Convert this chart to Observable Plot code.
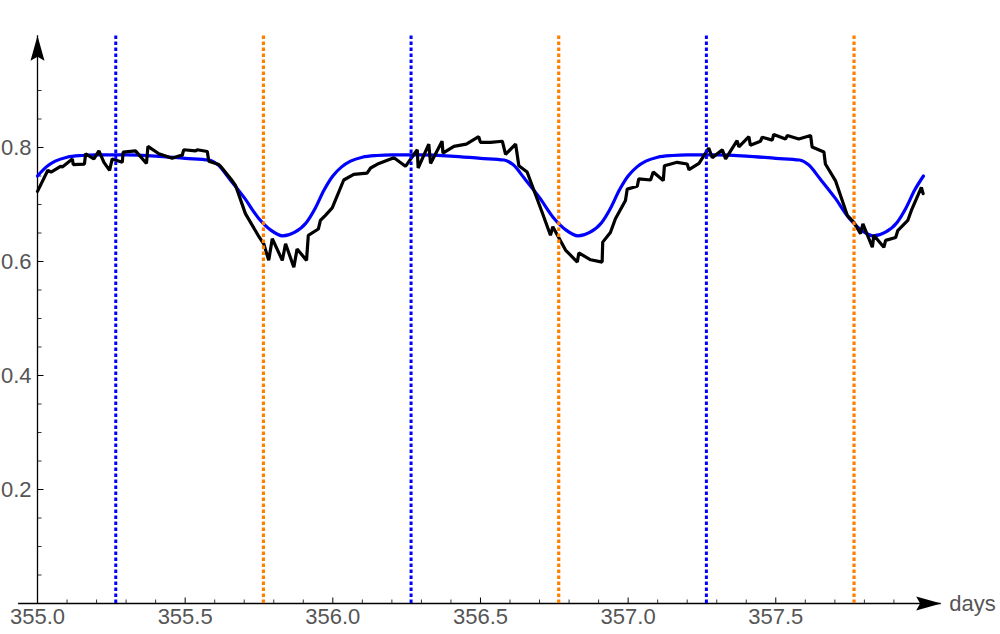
<!DOCTYPE html>
<html><head><meta charset="utf-8">
<script src="https://cdn.jsdelivr.net/npm/d3@7"></script>
<script src="https://cdn.jsdelivr.net/npm/@observablehq/plot@0.6"></script>
<style>html,body{margin:0;padding:0;background:#fff}#chart svg{display:block}</style>
</head><body><div id="chart"></div>
<script>
// Observed series (black)
const blackDays = [355.000,355.035,355.046,355.078,355.084,355.118,355.121,355.159,355.163,355.191,
355.208,355.225,355.244,355.253,355.287,355.290,355.332,355.369,355.374,355.411,
355.456,355.484,355.490,355.495,355.535,355.541,355.575,355.580,355.614,355.620,
355.659,355.671,355.704,355.747,355.766,355.783,355.795,355.829,355.840,355.868,
355.879,355.911,355.917,355.951,355.958,355.975,355.998,356.037,356.071,356.116,
356.128,356.156,356.207,356.246,356.286,356.289,356.325,356.331,356.370,356.373,
356.410,356.452,356.494,356.500,356.534,356.574,356.585,356.619,356.630,356.658,
356.709,356.737,356.745,356.788,356.828,356.833,356.873,356.912,356.914,356.940,
356.957,356.991,356.997,357.031,357.036,357.076,357.085,357.119,357.123,357.166,
357.200,357.206,357.240,357.273,357.285,357.319,357.330,357.369,357.375,357.409,
357.414,357.448,357.454,357.488,357.493,357.533,357.539,357.578,357.618,357.623,
357.663,357.668,357.702,357.742,357.764,357.787,357.795,357.827,357.832,357.866,
357.872,357.906,357.913,357.947,357.961,357.993,357.999];
const blackValues = [0.723,0.760,0.757,0.767,0.766,0.780,0.770,0.771,0.789,0.780,
0.794,0.774,0.760,0.780,0.774,0.792,0.794,0.772,0.802,0.789,
0.781,0.786,0.786,0.796,0.794,0.796,0.793,0.776,0.770,0.767,
0.742,0.733,0.684,0.646,0.631,0.602,0.640,0.602,0.631,0.590,
0.622,0.602,0.646,0.657,0.672,0.681,0.694,0.743,0.753,0.755,
0.764,0.772,0.782,0.767,0.796,0.764,0.806,0.772,0.811,0.790,
0.802,0.806,0.819,0.809,0.809,0.811,0.788,0.806,0.768,0.757,
0.686,0.646,0.661,0.620,0.599,0.615,0.603,0.599,0.634,0.651,
0.675,0.707,0.727,0.732,0.745,0.743,0.757,0.742,0.768,0.774,
0.771,0.761,0.772,0.799,0.782,0.796,0.780,0.812,0.801,0.819,
0.804,0.811,0.818,0.813,0.823,0.815,0.821,0.815,0.821,0.801,
0.792,0.771,0.742,0.681,0.669,0.649,0.666,0.625,0.646,0.625,
0.637,0.642,0.654,0.672,0.692,0.730,0.719];

// Model series (blue)
const blueDays = [
355.00,355.03,355.06,355.10,355.15,355.20,355.30,355.40,355.50,355.58,355.61,355.65,355.70,355.75,355.79,355.83,355.87,355.91,355.94,355.97,
356.00,356.03,356.06,356.10,356.15,356.20,356.30,356.40,356.50,356.58,356.61,356.65,356.70,356.75,356.79,356.83,356.87,356.91,356.94,356.97,
357.00,357.03,357.06,357.10,357.15,357.20,357.30,357.40,357.50,357.58,357.61,357.65,357.70,357.75,357.79,357.83,357.87,357.91,357.94,357.97,
358.00];
const blueValues = [
0.750,0.766,0.776,0.783,0.786,0.787,0.787,0.785,0.781,0.778,0.770,0.745,0.712,0.675,0.655,0.645,0.651,0.668,0.693,0.725,
0.750,0.766,0.776,0.783,0.786,0.787,0.787,0.785,0.781,0.778,0.770,0.745,0.712,0.675,0.655,0.645,0.651,0.668,0.693,0.725,
0.750,0.766,0.776,0.783,0.786,0.787,0.787,0.785,0.781,0.778,0.770,0.745,0.712,0.675,0.655,0.645,0.651,0.668,0.693,0.725,
0.750];

// Marker lines
const blueMarkers = [355.265, 356.265, 357.265];
const orangeMarkers = [355.765, 356.765, 357.765];

// Ticks
const xTickLabels = [355.0, 355.5, 356.0, 356.5, 357.0, 357.5];
const xMinorTicks = [355.1,355.2,355.3,355.4,355.6,355.7,355.8,355.9,356.1,356.2,356.3,356.4,356.6,356.7,356.8,356.9,357.1,357.2,357.3,357.4,357.6,357.7,357.8,357.9];
const yTickLabels = [0.2, 0.4, 0.6, 0.8];
const yMinorTicks = [0.05,0.1,0.15,0.25,0.3,0.35,0.45,0.5,0.55,0.65,0.7,0.75,0.85,0.9];
const xAxisLabel = "days";

// Axis extents
const xAxisStart = 354.936, xAxisEnd = 358.06;
const yAxisEnd = 0.996;

const black = blackDays.map((d, i) => ({day: d, value: blackValues[i]}));
const blue = blueDays.map((d, i) => ({day: d, value: blueValues[i]}));

const arrowUp = {draw(c) { c.moveTo(0, 0); c.lineTo(7, 25); c.lineTo(0, 21); c.lineTo(-7, 25); c.closePath(); }};
const arrowRight = {draw(c) { c.moveTo(0, 0); c.lineTo(-25, 7); c.lineTo(-21, 0); c.lineTo(-25, -7); c.closePath(); }};
const tickUp = (len) => ({draw(c) { c.moveTo(0, 0); c.lineTo(0, -len); }});
const tickRight = (len) => ({draw(c) { c.moveTo(0, 0); c.lineTo(len, 0); }});

const font = "Liberation Sans, Arial, sans-serif";
const labelColor = "#555";
const fs = 22;

const chart = Plot.plot({
  width: 1000, height: 634,
  marginLeft: 37, marginRight: 18, marginTop: 33, marginBottom: 31,
  x: {domain: [355, 358.2], axis: null},
  y: {domain: [0, 1], axis: null},
  style: {fontFamily: font, background: "white"},
  marks: [
    // axes
    Plot.ruleY([0], {x1: xAxisStart, x2: xAxisEnd, stroke: "black", strokeWidth: 1.3}),
    Plot.ruleX([355], {y1: 0, y2: yAxisEnd, stroke: "black", strokeWidth: 1.3}),
    Plot.dot(xTickLabels, {x: d => d, y: 0, symbol: tickUp(6), stroke: "black", strokeWidth: 1, fill: "none"}),
    Plot.dot(xMinorTicks, {x: d => d, y: 0, symbol: tickUp(4), stroke: "black", strokeWidth: 0.8, fill: "none"}),
    Plot.dot(yTickLabels, {x: 355, y: d => d, symbol: tickRight(6), stroke: "black", strokeWidth: 1, fill: "none"}),
    Plot.dot(yMinorTicks, {x: 355, y: d => d, symbol: tickRight(4), stroke: "black", strokeWidth: 0.8, fill: "none"}),
    Plot.dot([0], {x: xAxisEnd, y: 0, symbol: arrowRight, fill: "black", stroke: "none"}),
    Plot.dot([0], {x: 355, y: yAxisEnd, symbol: arrowUp, fill: "black", stroke: "none"}),
    Plot.text(xTickLabels, {x: d => d, y: 0, text: d => d.toFixed(1), lineAnchor: "top", dy: 5, fontSize: fs, fill: labelColor, fontFamily: font}),
    Plot.text(yTickLabels, {x: 355, y: d => d, text: d => d.toFixed(1), textAnchor: "end", dx: -6, fontSize: fs, fill: labelColor, fontFamily: font}),
    Plot.text([xAxisLabel], {x: xAxisEnd, y: 0, text: d => d, textAnchor: "start", dx: 8, fontSize: fs, fill: labelColor, fontFamily: font}),
    // series
    Plot.line(blue, {x: "day", y: "value", stroke: "#0000ff", strokeWidth: 3.2, curve: "monotone-x"}),
    Plot.line(black, {x: "day", y: "value", stroke: "black", strokeWidth: 3.2, strokeLinejoin: "miter"}),
    // dotted markers
    Plot.ruleX(blueMarkers, {y1: 0, y2: 1, stroke: "#0000ff", strokeWidth: 3, strokeDasharray: "3.5,2.5"}),
    Plot.ruleX(orangeMarkers, {y1: 0, y2: 1, stroke: "#ff8000", strokeWidth: 3.2, strokeDasharray: "3.5,2.5"})
  ]
});
document.getElementById("chart").appendChild(chart);
</script>
</body></html>
